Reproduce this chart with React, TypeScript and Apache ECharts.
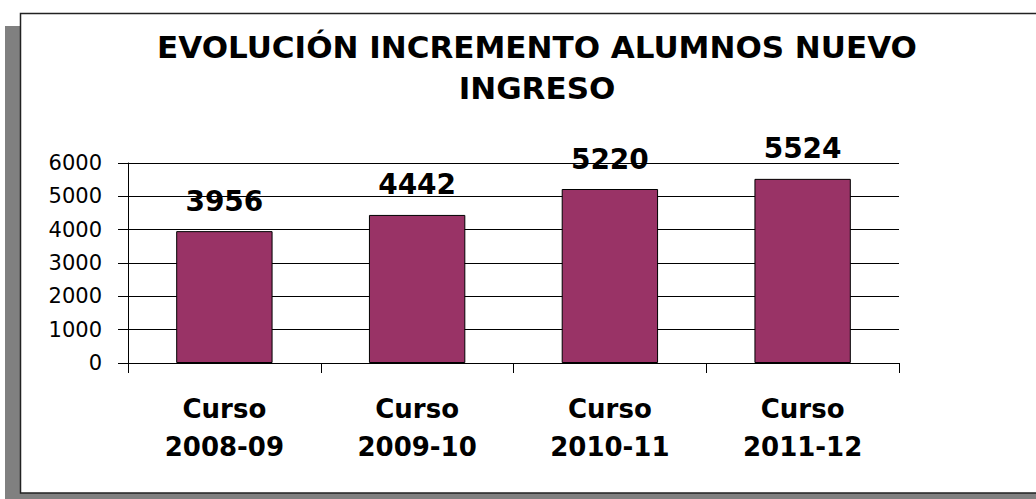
import React, { useEffect, useRef } from "react";
import * as echarts from "echarts";

const titleLines = ["EVOLUCIÓN INCREMENTO ALUMNOS NUEVO", "INGRESO"];
const categories = ["Curso\n2008-09", "Curso\n2009-10", "Curso\n2010-11", "Curso\n2011-12"];
const values = [3956, 4442, 5220, 5524];
const yTicks = { min: 0, max: 6000, interval: 1000 };

export default function App() {
  const ref = useRef<HTMLDivElement>(null);
  useEffect(() => {
    if (!ref.current) return;
    const chart = echarts.init(ref.current, null, { renderer: "svg" });
    chart.setOption({
      animation: false,
      backgroundColor: "#ffffff",
      graphic: [
        { type: "rect", z: -10, shape: { x: 5, y: 26, width: 1100, height: 480 }, style: { fill: "#808080" } },
        { type: "rect", z: -9, shape: { x: 20.5, y: 13.5, width: 1100, height: 479.5 }, style: { fill: "#ffffff", stroke: "#222", lineWidth: 1.5 } },
      ],
      title: {
        text: titleLines.join("\n"),
        left: 537,
        top: 26,
        padding: 0,
        textAlign: "center",
        textStyle: {
          fontFamily: "DejaVu Sans",
          fontWeight: "bold",
          fontSize: 31,
          lineHeight: 41,
          color: "#000",
        },
      },
      grid: { left: 128, right: 137, top: 163, bottom: 136, containLabel: false },
      xAxis: {
        type: "category",
        data: categories,
        axisLine: { lineStyle: { color: "#000", width: 1 } },
        axisTick: { show: true, length: 10, lineStyle: { color: "#000" } },
        axisLabel: {
          margin: 27,
          fontFamily: "DejaVu Sans",
          fontWeight: "bold",
          fontSize: 26,
          lineHeight: 38,
          color: "#000",
        },
      },
      yAxis: {
        type: "value",
        min: yTicks.min,
        max: yTicks.max,
        interval: yTicks.interval,
        axisLine: { show: true, lineStyle: { color: "#000", width: 1 } },
        axisTick: { show: true, length: 10, lineStyle: { color: "#000" } },
        splitLine: { show: true, lineStyle: { color: "#000", width: 1 } },
        axisLabel: {
          margin: 26,
          fontFamily: "DejaVu Sans",
          fontSize: 21,
          color: "#000",
          formatter: (v: number) => String(v),
        },
      },
      series: [
        {
          type: "bar",
          data: values,
          barWidth: "50%",
          itemStyle: { color: "#993366", borderColor: "#000", borderWidth: 1 },
          label: {
            show: true,
            position: "top",
            distance: 16,
            fontFamily: "DejaVu Sans",
            fontWeight: "bold",
            fontSize: 28,
            color: "#000",
          },
        },
      ],
    });
    return () => chart.dispose();
  }, []);
  return (
    <div
      ref={ref}
      style={{ position: "fixed", left: 0, top: 0, width: 1036, height: 499 }}
    />
  );
}
